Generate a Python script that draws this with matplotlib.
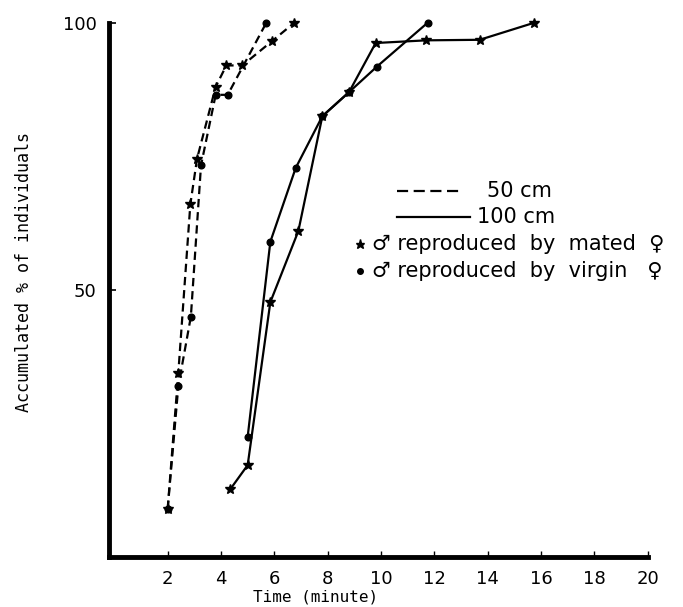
import matplotlib
matplotlib.use('Agg')
import matplotlib.pyplot as plt
from matplotlib.lines import Line2D

plt.rcParams['lines.scale_dashes'] = False

# ---- data ----
x50_mated = [2.0, 2.4, 2.85, 3.1, 3.8, 4.2, 4.8, 5.9, 6.75]
y50_mated = [9, 34.5, 66, 74.5, 88, 92, 92, 96.5, 100]
x50_virgin = [2.0, 2.4, 2.87, 3.25, 3.8, 4.25, 5.7]
y50_virgin = [9, 32, 45, 73.3, 86.5, 86.5, 100]
x100_mated = [4.35, 5.0, 5.85, 6.9, 7.8, 8.8, 9.8, 11.7, 13.7, 15.75]
y100_mated = [12.7, 17.2, 47.7, 61, 82.5, 87, 96.2, 96.7, 96.8, 100]
x100_virgin = [5.0, 5.85, 6.8, 7.8, 8.8, 9.85, 11.75]
y100_virgin = [22.5, 59, 72.8, 82.5, 87, 91.8, 100]

xticks = [2, 4, 6, 8, 10, 12, 14, 16, 18, 20]
yticks = [50, 100]

W, H = 683, 607
fig = plt.figure(figsize=(W / 100, H / 100), dpi=100)
ax = fig.add_axes([109 / W, 50 / H, (647.7 - 109) / W, (557 - 22.7) / H])
ax.set_xlim(-0.2, 20)
ax.set_ylim(0, 100)

for s in ['top', 'right']:
    ax.spines[s].set_visible(False)
for s in ['left', 'bottom']:
    ax.spines[s].set_linewidth(3.5)
    ax.spines[s].set_capstyle('projecting')

ax.set_xticks(xticks)
ax.set_yticks(yticks)
ax.set_xticklabels([str(t) for t in xticks], family='DejaVu Sans', fontsize=13)
ax.set_yticklabels([str(t) for t in yticks], family='DejaVu Sans', fontsize=13)
ax.tick_params(axis='x', direction='in', length=4, width=1, pad=9)
ax.tick_params(axis='y', direction='in', length=5, width=1.2, pad=9)

dash = (0, (6, 3.5))
lw = 1.6
ax.plot(x50_mated, y50_mated, color='black', lw=lw, linestyle=dash,
        marker='*', markersize=7.5, clip_on=False)
ax.plot(x50_virgin, y50_virgin, color='black', lw=lw, linestyle=dash,
        marker='o', markersize=4.8, clip_on=False)
ax.plot(x100_mated, y100_mated, color='black', lw=lw, linestyle='-',
        marker='*', markersize=7.5, clip_on=False)
ax.plot(x100_virgin, y100_virgin, color='black', lw=lw, linestyle='-',
        marker='o', markersize=4.8, clip_on=False)

mono = 'DejaVu Sans Mono'
fig.text(24 / W, 1 - 272 / H, 'Accumulated % of individuals', rotation=90,
         ha='center', va='center', family=mono, fontsize=12)
fig.text(253 / W, 1 - 597 / H, 'Time (minute)', ha='left', va='center',
         family=mono, fontsize=11.5)

# ---- legend (figure pixel positions) ----
def fx(px):
    return px / W

def fy(py):
    return 1 - py / H

sans = 'DejaVu Sans'
fig.add_artist(Line2D([fx(397), fx(462)], [fy(191), fy(191)], color='black',
                      lw=1.6, linestyle=(0, (8, 4)), transform=fig.transFigure))
fig.add_artist(Line2D([fx(397), fx(470)], [fy(217), fy(217)], color='black',
                      lw=1.6, transform=fig.transFigure))
fig.text(fx(487), fy(191), '50 cm', ha='left', va='center', fontsize=15, family=sans)
fig.text(fx(477), fy(217), '100 cm', ha='left', va='center', fontsize=15, family=sans)

fig.add_artist(Line2D([fx(360)], [fy(244)], color='black', marker='*',
                      markersize=6.5, linestyle='none', transform=fig.transFigure))
fig.add_artist(Line2D([fx(360)], [fy(271)], color='black', marker='o',
                      markersize=4, linestyle='none', transform=fig.transFigure))
fig.text(fx(372), fy(244), '♂ reproduced  by  mated  ♀', ha='left', va='center',
         fontsize=15, family=sans)
fig.text(fx(372), fy(271), '♂ reproduced  by  virgin   ♀', ha='left', va='center',
         fontsize=15, family=sans)

fig.savefig('out.png', dpi=100)
